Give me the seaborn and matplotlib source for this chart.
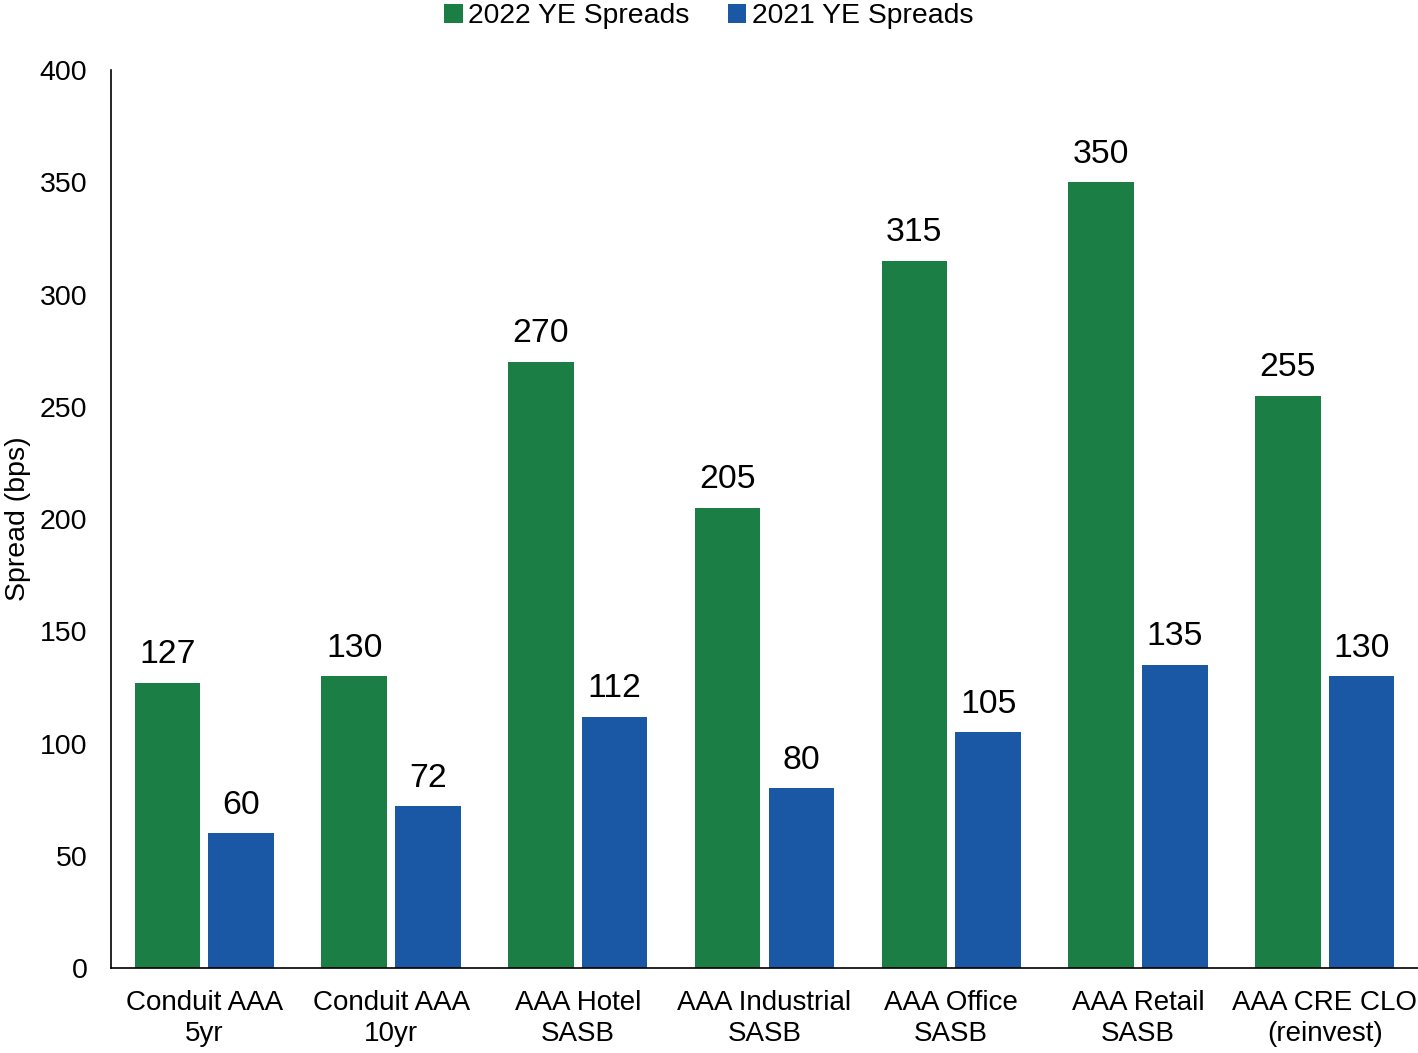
import pandas as pd
import matplotlib.pyplot as plt
import seaborn as sns

categories = ["Conduit AAA\n5yr", "Conduit AAA\n10yr", "AAA Hotel\nSASB", "AAA Industrial\nSASB",
              "AAA Office\nSASB", "AAA Retail\nSASB", "AAA CRE CLO\n(reinvest)"]
spreads_2022 = [127, 130, 270, 205, 315, 350, 255]
spreads_2021 = [60, 72, 112, 80, 105, 135, 130]
series_names = ["2022 YE Spreads", "2021 YE Spreads"]

df = pd.DataFrame({
    "category": categories * 2,
    "spread": spreads_2022 + spreads_2021,
    "series": [series_names[0]] * len(categories) + [series_names[1]] * len(categories),
})

sns.set_style("white")
plt.rcParams['font.family'] = ['Liberation Sans', 'DejaVu Sans']
plt.rcParams['text.color'] = 'black'
plt.rcParams['xtick.color'] = 'black'
plt.rcParams['ytick.color'] = 'black'
plt.rcParams['axes.labelcolor'] = 'black'

fig = plt.figure(figsize=(14.18, 10.53), dpi=100)
ax = fig.add_axes([0.0783, 0.0807, 0.9217, 0.8528])

palette = {series_names[0]: "#1b7f45", series_names[1]: "#1a58a6"}
sns.barplot(data=df, x="category", y="spread", hue="series", palette=palette,
            width=0.79, gap=0.11, saturation=1, edgecolor="none", ax=ax, legend=True)

for cont in ax.containers:
    ax.bar_label(cont, fmt="%d", padding=9, fontsize=24.3, color="black")

ax.set_ylim(0, 400)
ax.set_xlim(-0.5, 6.5)
ax.set_yticks(range(0, 401, 50))
ax.set_xlabel("")
ax.set_ylabel("Spread (bps)", fontsize=20.5, labelpad=6)
ax.tick_params(axis="y", length=0, pad=17, labelsize=20.5)
ax.tick_params(axis="x", length=0, pad=16, labelsize=20)
for lbl in ax.get_xticklabels():
    lbl.set_linespacing(1.22)

for side in ["top", "right"]:
    ax.spines[side].set_visible(False)
for side in ["left", "bottom"]:
    ax.spines[side].set_color("black")
    ax.spines[side].set_linewidth(1.2)

handles, labels = ax.get_legend_handles_labels()
ax.legend_.remove()
fig.legend(handles, labels, loc="upper center", bbox_to_anchor=(0.5, 1.021), ncol=2,
           frameon=False, fontsize=20.4, handlelength=0.65, handleheight=0.65,
           handletextpad=0.2, columnspacing=1.35)

fig.savefig("out.png", dpi=100)
